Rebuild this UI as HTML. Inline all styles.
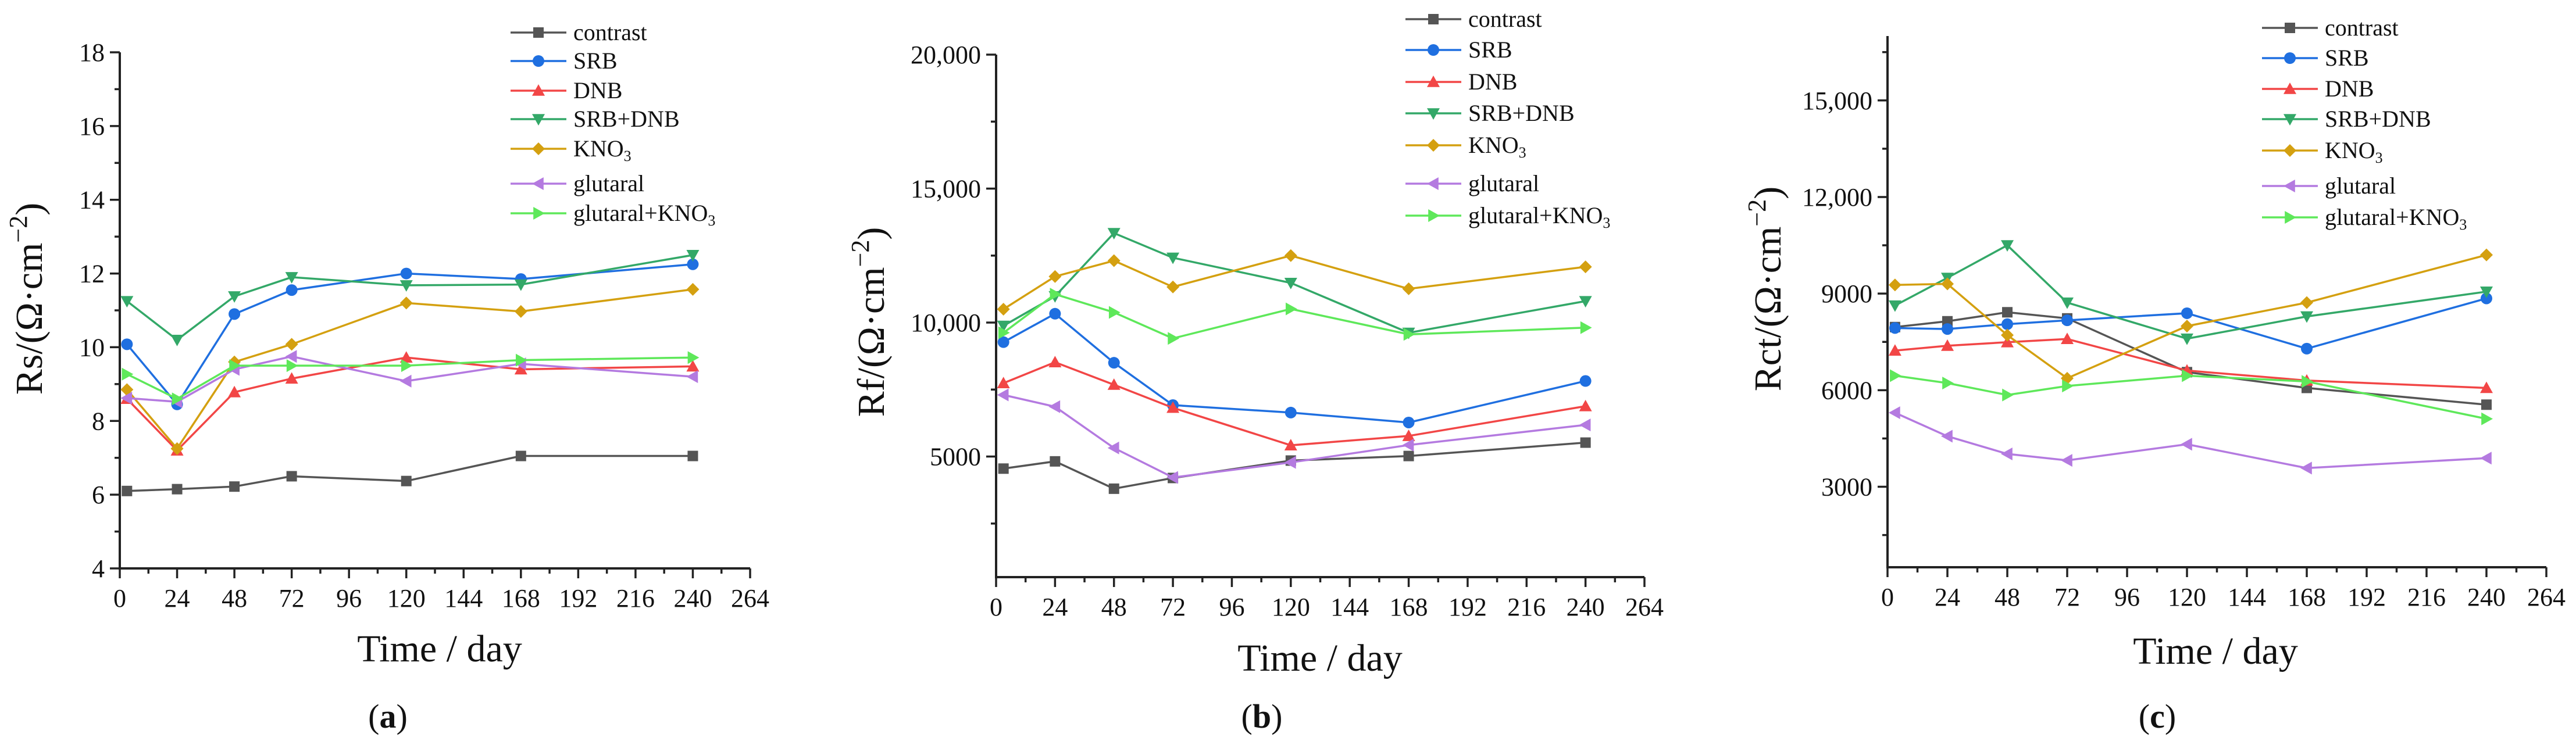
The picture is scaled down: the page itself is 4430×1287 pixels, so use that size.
<!DOCTYPE html>
<html><head><meta charset="utf-8"><style>
html,body{margin:0;padding:0;background:#fff;}
svg{display:block;font-family:"Liberation Serif",serif;}
svg text{font-family:"Liberation Serif",serif;}
</style></head><body>
<svg id="fig" width="4430" height="1287" viewBox="0 0 4430 1287" xmlns="http://www.w3.org/2000/svg" font-family="Liberation Serif, serif"></svg>
<script>
const days = [3, 24, 48, 72, 120, 168, 240];
const seriesNames = ["contrast", "SRB", "DNB", "SRB+DNB", "KNO3", "glutaral", "glutaral+KNO3"];
const rsContrast = [6.1, 6.15, 6.22, 6.5, 6.37, 7.05, 7.05];
const rsSRB = [10.08, 8.45, 10.9, 11.55, 12.0, 11.85, 12.25];
const rsDNB = [8.6, 7.2, 8.78, 9.15, 9.72, 9.4, 9.48];
const rsSRBDNB = [11.25, 10.2, 11.38, 11.9, 11.68, 11.7, 12.5];
const rsKNO3 = [8.85, 7.25, 9.6, 10.08, 11.2, 10.97, 11.57];
const rsGlut = [8.62, 8.52, 9.4, 9.75, 9.08, 9.55, 9.2];
const rsGlutKNO3 = [9.27, 8.6, 9.5, 9.5, 9.5, 9.65, 9.72];
const rfContrast = [4550, 4820, 3800, 4200, 4850, 5020, 5520];
const rfSRB = [9270, 10330, 8500, 6920, 6640, 6270, 7820];
const rfDNB = [7740, 8520, 7680, 6820, 5420, 5770, 6880];
const rfSRBDNB = [9880, 10980, 13340, 12420, 11480, 9620, 10800];
const rfKNO3 = [10500, 11720, 12310, 11330, 12500, 11260, 12080];
const rfGlut = [7300, 6860, 5320, 4220, 4780, 5430, 6180];
const rfGlutKNO3 = [9620, 11060, 10380, 9410, 10510, 9560, 9810];
const rctContrast = [7960, 8140, 8420, 8230, 6560, 6070, 5550];
const rctSRB = [7930, 7900, 8050, 8170, 8390, 7290, 8850];
const rctDNB = [7230, 7380, 7490, 7590, 6610, 6300, 6070];
const rctSRBDNB = [8630, 9490, 10500, 8720, 7600, 8290, 9060];
const rctKNO3 = [9270, 9300, 7710, 6370, 7990, 8720, 10200];
const rctGlut = [5300, 4570, 4020, 3820, 4320, 3580, 3890];
const rctGlutKNO3 = [6450, 6220, 5850, 6130, 6450, 6270, 5110];
const xTicks = [0, 24, 48, 72, 96, 120, 144, 168, 192, 216, 240, 264];
const rsTicks = [4, 6, 8, 10, 12, 14, 16, 18];
const rfTicks = [5000, 10000, 15000, 20000];
const rfTickLabels = ["5000", "10,000", "15,000", "20,000"];
const rctTicks = [3000, 6000, 9000, 12000, 15000];
const rctTickLabels = ["3000", "6000", "9000", "12,000", "15,000"];

const colors = ["#555555", "#1f6fe0", "#f24646", "#33a868", "#d4a010", "#b47ae0", "#5ee85a"];
const markers = ["square", "circle", "tri-up", "tri-down", "diamond", "tri-left", "tri-right"];
const NS = "http://www.w3.org/2000/svg";
const svg = document.getElementById("fig");
function el(tag, attrs, parent) {
  const e = document.createElementNS(NS, tag);
  for (const k in attrs) e.setAttribute(k, attrs[k]);
  (parent || svg).appendChild(e);
  return e;
}
function marker(g, type, x, y, c) {
  const r = 9;
  let m;
  if (type === "square") m = el("rect", {x: x - r, y: y - r, width: 2 * r, height: 2 * r, fill: c}, g);
  else if (type === "circle") m = el("circle", {cx: x, cy: y, r: r + 1, fill: c}, g);
  else {
    let p;
    const s = r + 2;
    if (type === "tri-up") p = [[x, y - s], [x + s, y + s * 0.8], [x - s, y + s * 0.8]];
    if (type === "tri-down") p = [[x, y + s], [x + s, y - s * 0.8], [x - s, y - s * 0.8]];
    if (type === "tri-left") p = [[x - s, y], [x + s * 0.8, y - s], [x + s * 0.8, y + s]];
    if (type === "tri-right") p = [[x + s, y], [x - s * 0.8, y - s], [x - s * 0.8, y + s]];
    if (type === "diamond") p = [[x, y - s], [x + s, y], [x, y + s], [x - s, y]];
    m = el("polygon", {points: p.map(q => q.join(",")).join(" "), fill: c}, g);
  }
  
  
}
function legendLabel(t, name) {
  if (name.indexOf("KNO3") >= 0) {
    const base = name.replace("KNO3", "KNO");
    t.textContent = base;
    const s = el("tspan", {"font-size": 26, dy: 8}, t);
    s.textContent = "3";
  } else t.textContent = name;
}
function chart(cfg) {
  const g = el("g", {});
  
  
  const X = d => cfg.x0 + (d - 0) / 264 * (cfg.x1 - cfg.x0);
  const Y = v => cfg.yb - (v - cfg.ymin) / (cfg.ymax - cfg.ymin) * (cfg.yb - cfg.yt);
  const ax = el("path", {d: `M${cfg.x0},${cfg.ytop} V${cfg.yb} H${cfg.x1}`, stroke: "#222", "stroke-width": 4, fill: "none"}, g);
  
  
  for (let d = 0; d <= 264; d += 12) {
    const major = d % 24 === 0;
    el("line", {x1: X(d), x2: X(d), y1: cfg.yb, y2: cfg.yb + (major ? 17 : 9), stroke: "#222", "stroke-width": 3.5}, g);
  }
  xTicks.forEach(d => {
    const t = el("text", {x: X(d), y: cfg.yb + 66, "font-size": 44, "text-anchor": "middle", fill: "#111"}, g);
    
    
    t.textContent = d;
  });
  cfg.minor.forEach(v => el("line", {x1: cfg.x0 - 9, x2: cfg.x0, y1: Y(v), y2: Y(v), stroke: "#222", "stroke-width": 3.5}, g));
  cfg.ticks.forEach((v, i) => {
    el("line", {x1: cfg.x0 - 17, x2: cfg.x0, y1: Y(v), y2: Y(v), stroke: "#222", "stroke-width": 3.5}, g);
    const t = el("text", {x: cfg.x0 - 26, y: Y(v) + 15, "font-size": 44, "text-anchor": "end", fill: "#111"}, g);
    
    
    t.textContent = cfg.labels[i];
  });
  const xt = el("text", {x: cfg.xtx, y: cfg.xty, "font-size": 66, "text-anchor": "middle", fill: "#111"}, g);
  
  
  xt.textContent = "Time / day";
  const yt = el("text", {x: 0, y: 0, "font-size": 66, "text-anchor": "middle", fill: "#111", transform: `translate(${cfg.ytx},${cfg.yty}) rotate(-90)`}, g);
  
  
  yt.textContent = cfg.ytitle + "/(Ω·cm";
  const sup = el("tspan", {"font-size": 44, dy: -26}, yt); sup.textContent = "−2";
  const cl = el("tspan", {dy: 26}, yt); cl.textContent = ")";
  const lab = el("text", {x: cfg.labx, y: 1252, "font-size": 58, "text-anchor": "middle", fill: "#111"}, g);
  
  
  lab.textContent = "(";
  const b = el("tspan", {"font-weight": "bold"}, lab); b.textContent = cfg.letter;
  const c2 = el("tspan", {}, lab); c2.textContent = ")";
  cfg.data.forEach((vals, i) => {
    const sg = el("g", {}, g);
    
    
    const pts = vals.map((v, j) => X(days[j]) + "," + Y(v)).join(" ");
    el("polyline", {points: pts, fill: "none", stroke: colors[i], "stroke-width": 3.5}, sg);
    vals.forEach((v, j) => marker(sg, markers[i], X(days[j]), Y(v), colors[i]));
  });
  cfg.legY.forEach((ly, i) => {
    const lg = el("g", {}, g);
    
    
    el("line", {x1: cfg.legX, x2: cfg.legX + 96, y1: ly, y2: ly, stroke: colors[i], "stroke-width": 3.5}, lg);
    marker(lg, markers[i], cfg.legX + 48, ly, colors[i]);
    const t = el("text", {x: cfg.legX + 108, y: ly + 13, "font-size": 40, fill: "#111"}, lg);
    legendLabel(t, seriesNames[i]);
  });
}
chart({name: "chart-rs", letter: "a", x0: 206, x1: 1290, yb: 978, yt: 90, ytop: 90, ymin: 4, ymax: 18,
  ticks: rsTicks, labels: rsTicks.map(String), minor: [5, 7, 9, 11, 13, 15, 17],
  data: [rsContrast, rsSRB, rsDNB, rsSRBDNB, rsKNO3, rsGlut, rsGlutKNO3],
  legX: 878, legY: [56, 105, 156, 205, 256, 316, 367], xtx: 756, xty: 1138, ytx: 72, yty: 514, ytitle: "Rs", labx: 667});
chart({name: "chart-rf", letter: "b", x0: 1713, x1: 2828, yb: 993, yt: 94, ytop: 94, ymin: 500, ymax: 20000,
  ticks: rfTicks, labels: rfTickLabels, minor: [2500, 7500, 12500, 17500],
  data: [rfContrast, rfSRB, rfDNB, rfSRBDNB, rfKNO3, rfGlut, rfGlutKNO3],
  legX: 2417, legY: [33, 86, 141, 195, 250, 316, 371], xtx: 2270, xty: 1154, ytx: 1520, yty: 554, ytitle: "Rf", labx: 2170});
chart({name: "chart-rct", letter: "c", x0: 3246, x1: 4379, yb: 976, yt: 62, ytop: 62, ymin: 500, ymax: 17000,
  ticks: rctTicks, labels: rctTickLabels, minor: [1500, 4500, 7500, 10500, 13500, 16500],
  data: [rctContrast, rctSRB, rctDNB, rctSRBDNB, rctKNO3, rctGlut, rctGlutKNO3],
  legX: 3890, legY: [48, 100, 153, 205, 259, 320, 374], xtx: 3810, xty: 1142, ytx: 3062, yty: 497, ytitle: "Rct", labx: 3710});
</script>
</body></html>
